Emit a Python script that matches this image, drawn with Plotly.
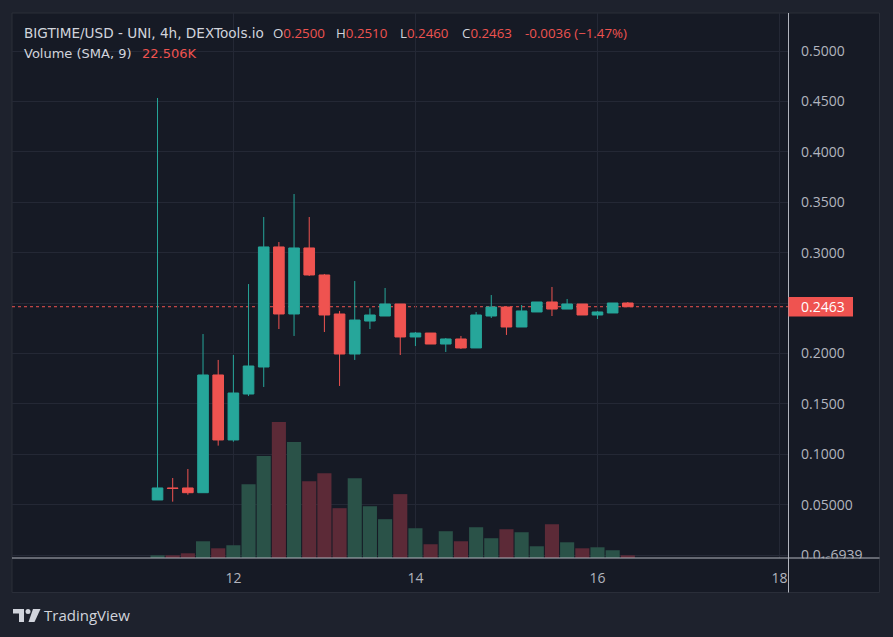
import plotly.graph_objects as go
import pandas as pd

# ---------------- data ----------------
times = pd.date_range("2023-11-11 04:00", periods=32, freq="4h")
opens = [0.0546, 0.0665, 0.0665, 0.0618, 0.1786, 0.1141, 0.1597, 0.1865, 0.3056, 0.2391,
         0.3046, 0.2778, 0.2391, 0.1994, 0.2321, 0.2371, 0.2490, 0.2163, 0.2202, 0.2093,
         0.2143, 0.2054, 0.2371, 0.2460, 0.2262, 0.2411, 0.2510, 0.2440, 0.2490, 0.2381,
         0.2401, 0.2500]
highs = [0.4534, 0.0764, 0.0853, 0.2192, 0.1935, 0.1984, 0.2688, 0.3353, 0.3105, 0.3581,
         0.3353, 0.2788, 0.2421, 0.2718, 0.2447, 0.2649, 0.2490, 0.2212, 0.2202, 0.2153,
         0.2173, 0.2411, 0.2579, 0.2460, 0.2480, 0.2510, 0.2659, 0.2540, 0.2490, 0.2421,
         0.2500, 0.2510]
lows = [0.0546, 0.0529, 0.0598, 0.0618, 0.1085, 0.1124, 0.1577, 0.1667, 0.2242, 0.2173,
        0.2768, 0.2212, 0.1677, 0.1935, 0.2242, 0.2371, 0.1984, 0.2073, 0.2093, 0.2014,
        0.2044, 0.2054, 0.2351, 0.2183, 0.2262, 0.2411, 0.2371, 0.2440, 0.2381, 0.2341,
        0.2401, 0.2460]
closes = [0.0665, 0.0660, 0.0618, 0.1786, 0.1141, 0.1607, 0.1875, 0.3056, 0.2391, 0.3046,
          0.2778, 0.2381, 0.1994, 0.2331, 0.2381, 0.2490, 0.2163, 0.2202, 0.2093, 0.2143,
          0.2054, 0.2381, 0.2460, 0.2262, 0.2421, 0.2510, 0.2440, 0.2490, 0.2381, 0.2411,
          0.2500, 0.2463]
volumes_k = [3.7, 3.7, 6.5, 23.1, 13.4, 17.6, 102.0, 140.7, 187.8, 160.1,
             106.1, 117.2, 68.8, 110.3, 71.5, 53.6, 88.2, 41.1, 19.0, 37.0,
             23.1, 42.5, 27.3, 39.7, 35.6, 16.2, 46.6, 21.7, 13.4, 14.8,
             10.7, 3.7]
price_ticks = [0.0, 0.05, 0.10, 0.15, 0.20, 0.25, 0.30, 0.35, 0.40, 0.45, 0.50]
price_tick_text = ["0.0₁₆6939", "0.05000", "0.1000", "0.1500", "0.2000", "",
                   "0.3000", "0.3500", "0.4000", "0.4500", "0.5000"]
day_ticks = ["2023-11-12", "2023-11-14", "2023-11-16", "2023-11-18"]
day_tick_text = ["12", "14", "16", "18"]
last_price = 0.2463
header_title = "BIGTIME/USD - UNI, 4h, DEXTools.io"
header_change = "-0.0036 (−1.47%)"
volume_sma_text = "22.506K"

# ---------------- style ----------------
UP = "#26a69a"
DOWN = "#ef5350"
VOL_UP = "#2a5248"
VOL_DOWN = "#5c2a37"
OUTER_BG = "#1e222d"
PANEL_BG = "#161a25"
GRID = "#242835"
TEXT = "#d1d4dc"
AXIS_TEXT = "#b2b5be"
FONT = "Open Sans"
HEAD_FONT = "DejaVu Sans"

W, H = 893, 637
L, R, T, B = 12, 789, 13, 558


def px(x):
    return (x - L) / (R - L)


def py(y):
    return (B - y) / (B - T)


vol_colors = [VOL_UP if c >= o else VOL_DOWN for o, c in zip(opens, closes)]

fig = go.Figure()
fig.add_trace(go.Bar(x=times, y=volumes_k, marker=dict(color=vol_colors, line=dict(width=0)),
                     yaxis="y", hoverinfo="skip", showlegend=False))
fig.add_trace(go.Candlestick(
    x=times, open=opens, high=highs, low=lows, close=closes, yaxis="y2",
    increasing=dict(line=dict(color=UP, width=1), fillcolor=UP),
    decreasing=dict(line=dict(color=DOWN, width=1), fillcolor=DOWN),
    whiskerwidth=0, showlegend=False))

x0 = pd.Timestamp("2023-11-12") - pd.Timedelta(days=2.432)
x1 = pd.Timestamp("2023-11-12") + pd.Timedelta(days=6.104)

shapes = [
    dict(type="rect", xref="paper", yref="paper", x0=px(12), x1=px(879.5), y0=py(13), y1=py(592.5),
         fillcolor=PANEL_BG, line=dict(color="#2a2e39", width=1), layer="below"),
    dict(type="line", xref="paper", yref="y2", x0=0, x1=1, y0=last_price, y1=last_price,
         line=dict(color=DOWN, width=1, dash="dot"), layer="below"),
    dict(type="rect", xref="paper", yref="paper", x0=px(789.5), x1=px(879), y0=py(558.5), y1=py(592),
         fillcolor=PANEL_BG, line=dict(width=0), layer="above"),
    dict(type="line", xref="paper", yref="paper", x0=px(788.5), x1=px(788.5), y0=py(13), y1=py(592.5),
         line=dict(color=AXIS_TEXT, width=1), layer="above"),
    dict(type="line", xref="paper", yref="paper", x0=px(12), x1=px(879.5), y0=py(558), y1=py(558),
         line=dict(color=AXIS_TEXT, width=1), layer="above"),
    dict(type="rect", xref="paper", yref="paper", x0=px(788.5), x1=px(853), y0=py(297), y1=py(316.5),
         fillcolor=DOWN, line=dict(width=0), layer="above"),
]

# TradingView logo icon
logo = [
    f"M {px(13)},{py(609)} L {px(24)},{py(609)} L {px(24)},{py(622)} L {px(19)},{py(622)} "
    f"L {px(19)},{py(613.5)} L {px(13)},{py(613.5)} Z",
    f"M {px(33)},{py(609)} L {px(40.5)},{py(609)} L {px(34.5)},{py(622)} L {px(28.5)},{py(622)} Z",
]
for p in logo:
    shapes.append(dict(type="path", xref="paper", yref="paper", path=p,
                       fillcolor=TEXT, line=dict(width=0), layer="above"))
shapes.append(dict(type="circle", xref="paper", yref="paper", x0=px(25.5), x1=px(30.5),
                   y0=py(609), y1=py(614), fillcolor=TEXT, line=dict(width=0), layer="above"))


def red(s):
    return f"<span style='color:{DOWN}'>{s}</span>"


def ann(x, y, text, size=13, color=TEXT, family=HEAD_FONT, xanchor="left"):
    return dict(x=px(x), y=py(y), xref="paper", yref="paper", text=text, showarrow=False,
                xanchor=xanchor, yanchor="middle", font=dict(family=family, size=size, color=color))


annotations = [
    ann(22, 33, header_title, size=13.6),
    ann(271, 33, "O" + red(f"{opens[-1]:.4f}"), family=FONT, size=13.3),
    ann(334, 33, "H" + red(f"{highs[-1]:.4f}"), family=FONT, size=13.3),
    ann(398, 33, "L" + red(f"{lows[-1]:.4f}"), family=FONT, size=13.3),
    ann(460, 33, "C" + red(f"{closes[-1]:.4f}"), family=FONT, size=13.3),
    ann(523, 33, red(header_change), family=FONT, size=13.3),
    ann(22, 53, "Volume (SMA, 9)"),
    ann(140, 53, red(volume_sma_text)),
    ann(799, 306.5, f"{last_price:.4f}", size=14, color="#ffffff", family=FONT),
    ann(42, 615, "TradingView", size=15, color=TEXT, family=FONT),
]

fig.update_layout(
    width=W, height=H,
    margin=dict(l=L, r=W - R, t=T, b=H - B, pad=0),
    paper_bgcolor=OUTER_BG, plot_bgcolor=PANEL_BG,
    bargap=0.07, boxgap=0.3, boxgroupgap=0,
    showlegend=False,
    xaxis=dict(type="date", range=[x0, x1], tickmode="array", tickvals=day_ticks,
               ticktext=day_tick_text, showgrid=True, gridcolor=GRID, gridwidth=1,
               zeroline=False, showline=False, ticks="", rangeslider=dict(visible=False),
               tickfont=dict(family=FONT, size=14, color=AXIS_TEXT), ticklabelstandoff=10),
    yaxis=dict(range=[0, 752.6], visible=False, showgrid=False, fixedrange=True),
    yaxis2=dict(overlaying="y", side="right", range=[-0.00298, 0.5377], tickmode="array",
                tickvals=price_ticks, ticktext=price_tick_text, showgrid=True,
                gridcolor=GRID, gridwidth=1, zeroline=False, showline=False, ticks="",
                tickfont=dict(family=FONT, size=14, color=AXIS_TEXT), ticklabelstandoff=11),
    shapes=shapes,
    annotations=annotations,
)

fig.write_html("out.html", config={"displayModeBar": False},
               post_script="document.body.style.margin='0';"
                           "document.body.style.background='" + OUTER_BG + "';")
